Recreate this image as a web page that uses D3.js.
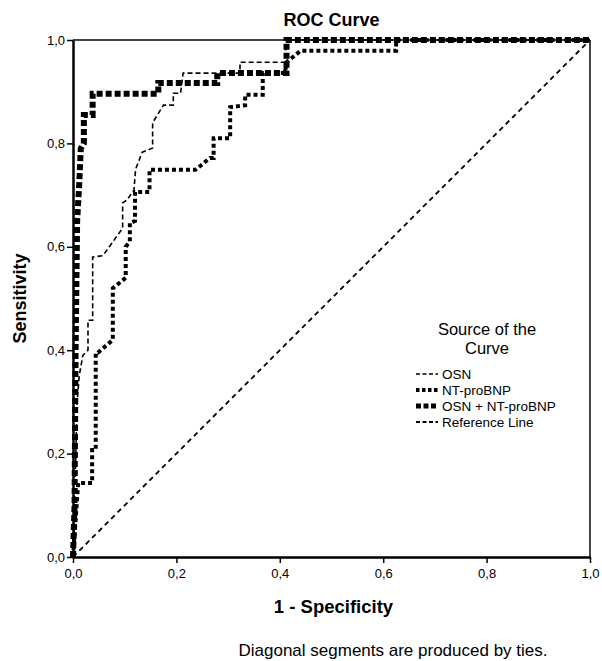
<!DOCTYPE html>
<html lang="en">
<head>
<meta charset="utf-8">
<title>ROC Curve</title>
<script src="https://d3js.org/d3.v7.min.js"></script>
<style>
  body { margin: 0; background: #fff; }
  text { font-family: "Liberation Sans", Arial, sans-serif; fill: #000; }
</style>
</head>
<body>
<div id="chart"></div>
<script>
// Data: [1 - specificity, sensitivity]
const osnPoints = [
  [0, 0], [0.004, 0.14], [0.008, 0.3], [0.012, 0.35], [0.019, 0.39], [0.029, 0.40],
  [0.029, 0.458], [0.038, 0.458], [0.038, 0.58], [0.058, 0.583], [0.096, 0.636],
  [0.096, 0.685], [0.104, 0.69], [0.118, 0.71], [0.121, 0.75], [0.134, 0.783],
  [0.154, 0.791], [0.154, 0.84], [0.175, 0.874], [0.194, 0.874], [0.194, 0.897],
  [0.208, 0.897], [0.213, 0.936], [0.323, 0.936], [0.323, 0.957], [0.41, 0.957],
  [0.413, 1], [1, 1]
];
const ntProBnpPoints = [
  [0, 0], [0.01, 0.143], [0.037, 0.143], [0.037, 0.207], [0.044, 0.207], [0.044, 0.395],
  [0.048, 0.395], [0.077, 0.42], [0.077, 0.52], [0.102, 0.54], [0.102, 0.6],
  [0.11, 0.61], [0.11, 0.646], [0.12, 0.65], [0.12, 0.706], [0.148, 0.706],
  [0.148, 0.749], [0.237, 0.749], [0.265, 0.772], [0.272, 0.772], [0.272, 0.81],
  [0.304, 0.81], [0.304, 0.87], [0.333, 0.874], [0.333, 0.894], [0.367, 0.894],
  [0.367, 0.936], [0.41, 0.936], [0.413, 0.957], [0.44, 0.979], [0.625, 0.979],
  [0.625, 1], [1, 1]
];
const combinedPoints = [
  [0, 0], [0.003, 0.1], [0.005, 0.4], [0.008, 0.65], [0.012, 0.72], [0.015, 0.79],
  [0.021, 0.8], [0.021, 0.855], [0.038, 0.855], [0.038, 0.896], [0.165, 0.896],
  [0.165, 0.917], [0.279, 0.917], [0.279, 0.936], [0.413, 0.936], [0.413, 1], [1, 1]
];
const referencePoints = [[0, 0], [1, 1]];

const tickValues = [0, 0.2, 0.4, 0.6, 0.8, 1.0];
const legendLabels = ["OSN", "NT-proBNP", "OSN + NT-proBNP", "Reference Line"];

// Line styles per series
const styles = [
  { width: 1.6, dash: "5,3" },
  { width: 4, dash: "4,3" },
  { width: 6, dash: "6,3" },
  { width: 1.8, dash: "5,4" }
];
const series = [osnPoints, ntProBnpPoints, combinedPoints, referencePoints];

const W = 602, H = 661;
const margin = { top: 40, right: 12, bottom: 104, left: 73 };
const width = W - margin.left - margin.right;
const height = H - margin.top - margin.bottom;

const svg = d3.select("#chart").append("svg")
  .attr("width", W)
  .attr("height", H);

const g = svg.append("g")
  .attr("transform", `translate(${margin.left},${margin.top})`);

const x = d3.scaleLinear().domain([0, 1]).range([0, width]);
const y = d3.scaleLinear().domain([0, 1]).range([height, 0]);
const fmt = d => d3.format(".1f")(d).replace(".", ",");

// Frame top and right
g.append("line")
  .attr("x1", 0).attr("x2", width).attr("y1", 0).attr("y2", 0)
  .attr("stroke", "#444").attr("stroke-width", 2);
g.append("line")
  .attr("x1", width).attr("x2", width).attr("y1", 0).attr("y2", height)
  .attr("stroke", "#444").attr("stroke-width", 2);

// Axes
const xAxis = g.append("g")
  .attr("transform", `translate(0,${height})`)
  .call(d3.axisBottom(x).tickValues(tickValues).tickFormat(fmt).tickSize(6).tickSizeOuter(0));
const yAxis = g.append("g")
  .call(d3.axisLeft(y).tickValues(tickValues).tickFormat(fmt).tickSize(6).tickSizeOuter(0));

[xAxis, yAxis].forEach(a => {
  a.select(".domain").attr("stroke", "#000").attr("stroke-width", 2.5);
  a.selectAll(".tick line").attr("stroke", "#000").attr("stroke-width", 1.5);
  a.selectAll(".tick text")
    .style("font-family", '"Liberation Sans", Arial, sans-serif')
    .style("font-size", "13px")
    .attr("fill", "#000");
});
xAxis.selectAll(".tick text").attr("dy", "0.95em");
yAxis.selectAll(".tick text").attr("x", -8);

// Curves
const line = d3.line().x(d => x(d[0])).y(d => y(d[1]));
const plot = g.append("g");
series.forEach((pts, i) => {
  plot.append("path")
    .datum(pts)
    .attr("fill", "none")
    .attr("stroke", "#000")
    .attr("stroke-width", styles[i].width)
    .attr("stroke-dasharray", styles[i].dash)
    .attr("d", line);
});

// Titles
svg.append("text")
  .attr("x", margin.left + width / 2)
  .attr("y", 26)
  .attr("text-anchor", "middle")
  .style("font-size", "18px")
  .style("font-weight", "bold")
  .text("ROC Curve");

svg.append("text")
  .attr("transform", `translate(26,${margin.top + height / 2}) rotate(-90)`)
  .attr("text-anchor", "middle")
  .style("font-size", "18px")
  .style("font-weight", "bold")
  .text("Sensitivity");

svg.append("text")
  .attr("x", margin.left + width / 2 + 2)
  .attr("y", 613)
  .attr("text-anchor", "middle")
  .style("font-size", "18.5px")
  .style("font-weight", "bold")
  .text("1 - Specificity");

svg.append("text")
  .attr("x", 393)
  .attr("y", 656)
  .attr("text-anchor", "middle")
  .style("font-size", "17px")
  .text("Diagonal segments are produced by ties.");

// Legend
const legend = svg.append("g").attr("transform", "translate(416,0)");
legend.append("text")
  .attr("x", 71).attr("y", 335)
  .attr("text-anchor", "middle")
  .style("font-size", "16.5px")
  .text("Source of the");
legend.append("text")
  .attr("x", 71).attr("y", 354)
  .attr("text-anchor", "middle")
  .style("font-size", "16.5px")
  .text("Curve");

legendLabels.forEach((label, i) => {
  const ly = 374 + i * 16;
  legend.append("line")
    .attr("x1", 0).attr("x2", 22)
    .attr("y1", ly).attr("y2", ly)
    .attr("stroke", "#000")
    .attr("stroke-width", Math.min(styles[i].width, 5))
    .attr("stroke-dasharray", i === 2 ? "5,2.5" : i === 1 ? "3.5,2.5" : "4,2.5");
  legend.append("text")
    .attr("x", 26).attr("y", ly + 5)
    .style("font-size", "13.5px")
    .text(label);
});
</script>
</body>
</html>
